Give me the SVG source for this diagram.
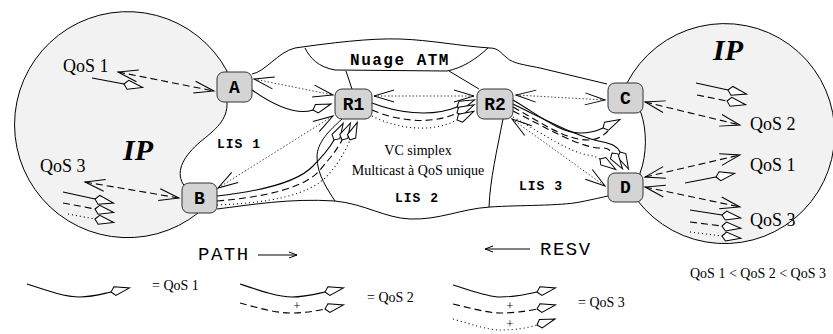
<svg xmlns="http://www.w3.org/2000/svg" width="833" height="334" viewBox="0 0 833 334">
<style>
.sol{fill:none;stroke:#000;stroke-width:1.1}
.dsh{fill:none;stroke:#000;stroke-width:1.1;stroke-dasharray:7,4}
.dot{fill:none;stroke:#000;stroke-width:1.1;stroke-dasharray:1,3}
.fine{fill:none;stroke:#333;stroke-width:0.9;stroke-dasharray:1.5,2}
.edge{fill:none;stroke:#000;stroke-width:1}
.va{marker-start:url(#v);marker-end:url(#v)}
.k{marker-end:url(#kite)}
.sa{marker-end:url(#sv)}
.node rect{fill:#d4d4d4;stroke:#333;stroke-width:1}
.node text{font-family:"Liberation Mono",monospace;font-weight:bold;font-size:18px;text-anchor:middle}
.q{font-family:"Liberation Serif",serif;font-size:18px}
.s{font-family:"Liberation Serif",serif;font-size:14px}
.lis{font-family:"Liberation Mono",monospace;font-weight:bold;font-size:13px;letter-spacing:1px}
.ip{font-family:"Liberation Serif",serif;font-weight:bold;font-style:italic;font-size:30px}
.mono{font-family:"Liberation Mono",monospace;font-size:19px;letter-spacing:1.5px}
.region{fill:#f2f2f2;stroke:#000;stroke-width:1}
</style>
<defs>
<marker id="v" markerUnits="userSpaceOnUse" viewBox="-22 -8 24 16" refX="0" refY="0" markerWidth="24" markerHeight="16" orient="auto-start-reverse"><path d="M-20,-6 L0,0 L-20,6" fill="none" stroke="#000" stroke-width="1"/></marker>
<marker id="kite" markerUnits="userSpaceOnUse" viewBox="-2 -7 23 14" refX="0" refY="0" markerWidth="23" markerHeight="14" orient="auto"><path d="M0,0 L4,-4.5 L19,0 L4,4.5 Z" fill="#fff" stroke="#000" stroke-width="1"/></marker>
<marker id="sv" markerUnits="userSpaceOnUse" viewBox="-9 -5 10 10" refX="0" refY="0" markerWidth="10" markerHeight="10" orient="auto"><path d="M-8,-3 L0,0 L-8,3" fill="none" stroke="#000" stroke-width="1"/></marker>
</defs>

<!-- IP regions -->
<path id="ip-left" class="region" d="M227,71 A113,113 0 1,0 198,213 L200,200 L183,184 C175,170 185,155 200,142 C215,130 228,120 227,102 Z"/>
<path id="ip-right" class="region" d="M627,83 A110,110 0 1,1 637,200 L640,185 L640,173 C647,155 647,130 641,113 Z"/>

<!-- ATM cloud -->
<g id="cloud">
<path class="edge" d="M252,74 C265,72 278,52 295,48 C330,43 370,38 400,39 C430,40 460,46 490,48 C498,48 501,53 506,57 C512,63 520,64 540,68 L607,84"/>
<path class="edge" d="M305,48 C310,58 318,67 335,70 L447,71 C462,68 475,60 488,48"/>
<path class="edge" d="M346,71 L352,89"/>
<path class="edge" d="M449,71 L479,89"/>
<path class="edge" d="M217,209 C250,205 290,198 335,201 C365,204 385,218 410,219 C440,220 460,209 490,207 C520,205 560,206 580,202 C595,199 603,197 608,196"/>
<path class="edge" d="M342,119 C330,130 317,142 317,157 C317,175 328,190 335,201"/>
<path class="edge" d="M503,119 C497,150 490,180 489,207"/>
</g>

<!-- texts -->
<text class="ip" x="123" y="160">IP</text>
<text class="ip" x="713" y="60">IP</text>
<text x="400" y="65" text-anchor="middle" style="font-family:'Liberation Mono',monospace;font-weight:bold;font-size:16px;letter-spacing:1.5px">Nuage ATM</text>
<text class="q" x="63" y="72">QoS 1</text>
<text class="q" x="40" y="172">QoS 3</text>
<text class="q" x="750" y="130">QoS 2</text>
<text class="q" x="750" y="171">QoS 1</text>
<text class="q" x="750" y="226">QoS 3</text>
<text class="s" x="418" y="155" text-anchor="middle">VC simplex</text>
<text class="s" x="418" y="175" text-anchor="middle">Multicast à QoS unique</text>
<text class="lis" x="217" y="148">LIS 1</text>
<text class="lis" x="395" y="202">LIS 2</text>
<text class="lis" x="519" y="190">LIS 3</text>
<text class="mono" x="198" y="260">PATH</text>
<text class="mono" x="540" y="255">RESV</text>
<text class="s" x="690" y="278">QoS 1 &lt; QoS 2 &lt; QoS 3</text>
<text class="s" x="152" y="290">= QoS 1</text>
<text class="s" x="367" y="302">= QoS 2</text>
<text class="s" x="578" y="307">= QoS 3</text>
<text class="s" x="297" y="310" text-anchor="middle" style="font-size:12px">+</text>
<text class="s" x="510" y="310" text-anchor="middle" style="font-size:12px">+</text>
<text class="s" x="510" y="328" text-anchor="middle" style="font-size:12px">+</text>

<!-- connectors -->
<g id="connectors">
<!-- QoS <-> node dashed -->
<path class="dsh va" d="M118,72 L214,91"/>
<path class="dsh va" d="M85,182 L179,198"/>
<path class="dsh va" d="M645,102 L740,125"/>
<path class="dsh va" d="M645,177 L740,155"/>
<path class="dsh va" d="M645,187 L740,207"/>
<!-- local senders / receivers -->
<path class="sol k" d="M92,78 L124,84"/>
<path class="sol k" d="M63,192 L95,199"/>
<path class="dsh k" d="M63,203 L95,209"/>
<path class="dot k" d="M68,214 L95,219"/>
<path class="sol k" d="M696,83 L728,90"/>
<path class="dsh k" d="M697,95 L727,101"/>
<path class="sol k" d="M685,183 L716,177"/>
<path class="sol k" d="M690,210 L722,215"/>
<path class="dsh k" d="M690,222 L722,226"/>
<path class="dot k" d="M690,232 L722,236"/>
<!-- node to node (dotted bidirectional) -->
<path class="fine va" d="M254,79 L333,95"/>
<path class="fine va" d="M374,96 L474,96"/>
<path class="fine va" d="M516,95 L605,100"/>
<path class="fine va" d="M218,188 L333,116"/>
<path class="fine va" d="M512,119 L605,186"/>
<!-- flows -->
<path class="sol k" d="M252,90 C272,104 295,116 313,110"/>
<path class="sol k" d="M372,103 C395,112 430,118 457,107"/>
<path class="dsh k" d="M372,110 C395,120 430,126 457,113"/>
<path class="dot k" d="M372,116 C395,128 430,134 457,120"/>
<path class="sol k" d="M217,196 C262,191 298,182 313,166 C321,158 329,149 334,140"/>
<path class="dsh k" d="M217,201 C265,197 305,188 320,170 C330,158 337,150 342,140"/>
<path class="dot k" d="M217,205 C270,203 310,195 328,175 C338,164 345,152 350,140"/>
<path class="sol k" d="M513,100 C540,116 560,133 580,133 C590,133 597,131 603,128"/>
<path class="dsh" d="M513,107 C540,122 565,140 588,140 C597,140 603,136 608,131"/>
<path class="sol k" d="M513,104 C550,122 580,138 603,142 C612,144 617,146 620,152"/>
<path class="dsh k" d="M513,111 C550,130 578,146 598,148 C604,148 608,147 612,153"/>
<path class="dot k" d="M513,117 C548,137 570,152 588,155 C594,156 597,157 600,159"/>
<!-- PATH / RESV -->
<path class="edge sa" d="M258,255 L297,255"/>
<path class="edge sa" d="M530,249 L485,249"/>
<!-- legend -->
<path class="sol k" d="M27,284 C45,290 65,297 80,297 C92,297 102,294 111,292"/>
<path class="sol k" d="M240,284 C258,290 278,297 292,297 C304,297 316,294 325,292"/>
<path class="dsh k" d="M240,303 C255,307 275,313 290,313 C305,313 316,311 325,309"/>
<path class="sol k" d="M453,285 C470,290 488,297 500,297 C515,297 528,294 537,292"/>
<path class="dsh k" d="M453,304 C470,308 488,313 500,313 C515,313 528,311 537,309"/>
<path class="dot k" d="M453,319 C470,324 488,330 500,330 C515,330 528,328 537,325"/>
</g>

<!-- nodes -->
<g id="A" class="node"><rect x="217" y="72" width="35" height="30" rx="7"/><text x="234.5" y="93">A</text></g>
<g id="B" class="node"><rect x="182" y="183" width="35" height="30" rx="7"/><text x="199.5" y="204">B</text></g>
<g id="R1" class="node"><rect x="335" y="89" width="37" height="30" rx="7"/><text x="353.5" y="110">R1</text></g>
<g id="R2" class="node"><rect x="477" y="89" width="36" height="30" rx="7"/><text x="495" y="110">R2</text></g>
<g id="C" class="node"><rect x="608" y="83" width="35" height="30" rx="7"/><text x="625.5" y="104">C</text></g>
<g id="D" class="node"><rect x="608" y="173" width="35" height="29" rx="7"/><text x="625.5" y="193">D</text></g>
</svg>
